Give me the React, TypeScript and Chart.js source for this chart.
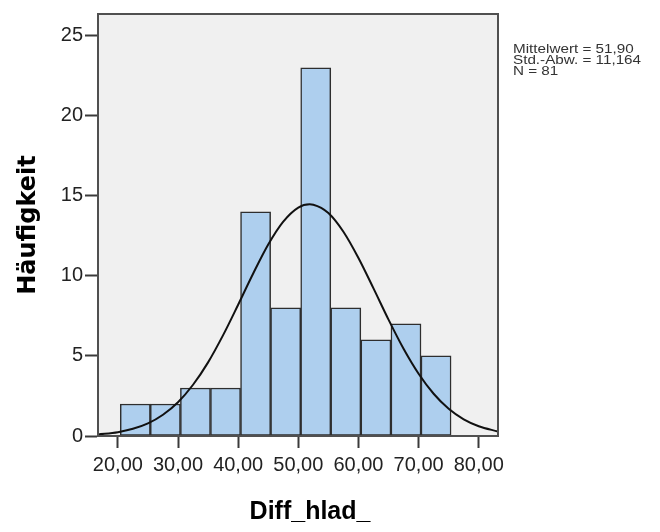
import React, { useEffect, useRef } from 'react';
import { Chart, registerables } from 'chart.js';

Chart.register(...registerables);

// ---- data ----
const binStart = 20.4;
const binWidth = 5;
const counts = [2, 2, 3, 3, 14, 8, 23, 8, 6, 7, 5];

const curveX = [16.7, 20, 22.5, 25, 27.5, 30, 32.5, 35, 37.5, 40, 42.5, 45, 47.5, 50, 51.9, 52.5, 55, 57.5, 60, 62.5, 65, 67.5, 70, 72.5, 75, 77.5, 80, 83.2];
const curveY = [0.10, 0.24, 0.45, 0.79, 1.33, 2.11, 3.20, 4.60, 6.30, 8.20, 10.15, 11.96, 13.39, 14.27, 14.47, 14.45, 13.93, 12.76, 11.12, 9.22, 7.27, 5.45, 3.89, 2.64, 1.70, 1.04, 0.61, 0.28];

const xTicks = [20, 30, 40, 50, 60, 70, 80];
const xTickLabels = ['20,00', '30,00', '40,00', '50,00', '60,00', '70,00', '80,00'];
const yTicks = [0, 5, 10, 15, 20, 25];
const yTickLabels = ['0', '5', '10', '15', '20', '25'];

const xTitle = 'Diff_hlad_';
const yTitle = 'Häufigkeit';
const statsLines = ['Mittelwert = 51,90', 'Std.-Abw. = 11,164', 'N = 81'];

const FONT = "'Liberation Sans', Arial, sans-serif";
const AXIS_COLOR = '#3a3a3a';

const frameAndStats = {
  id: 'frameAndStats',
  beforeDatasetsDraw(chart: any) {
    const { ctx, chartArea: a } = chart;
    ctx.save();
    ctx.fillStyle = '#f0f0f0';
    ctx.fillRect(a.left, a.top, a.right - a.left, a.bottom - a.top);
    ctx.restore();
  },
  afterDraw(chart: any) {
    const { ctx, chartArea: a } = chart;
    ctx.save();
    ctx.strokeStyle = '#505050';
    ctx.lineWidth = 2;
    ctx.strokeRect(a.left, a.top, a.right - a.left, a.bottom - a.top);

    // x-axis title (SPSS places it slightly right of centre)
    ctx.fillStyle = '#000';
    ctx.font = `bold 25px ${FONT}`;
    ctx.textAlign = 'center';
    ctx.textBaseline = 'middle';
    ctx.fillText(xTitle, (a.left + a.right) / 2 + 12, 512);

    // statistics box
    ctx.fillStyle = '#333';
    ctx.font = `12px ${FONT}`;
    ctx.textAlign = 'left';
    ctx.textBaseline = 'alphabetic';
    statsLines.forEach((t, i) => {
      ctx.save();
      ctx.translate(a.right + 15, 53 + i * 11);
      ctx.scale(1.27, 1);
      ctx.fillText(t, 0, 0);
      ctx.restore();
    });
    ctx.restore();
  },
};

export default function App() {
  const ref = useRef<HTMLCanvasElement | null>(null);

  useEffect(() => {
    if (!ref.current) return;
    const barData = counts.map((c, i) => ({ x: binStart + binWidth * (i + 0.5), y: c }));
    const lineData = curveX.map((x, i) => ({ x, y: curveY[i] }));

    const chart = new Chart(ref.current, {
      type: 'bar',
      data: {
        datasets: [
          {
            type: 'line',
            data: lineData,
            borderColor: '#111',
            borderWidth: 2,
            pointRadius: 0,
            cubicInterpolationMode: 'monotone',
            fill: false,
            order: 0,
          } as any,
          {
            type: 'bar',
            data: barData,
            backgroundColor: '#aecfee',
            borderColor: '#2e2e2e',
            borderWidth: 1.5,
            borderSkipped: false,
            barPercentage: 1,
            categoryPercentage: 1,
            order: 1,
          } as any,
        ],
      },
      options: {
        animation: false,
        responsive: false,
        maintainAspectRatio: false,
        layout: { padding: { left: 0, right: 162, top: 5, bottom: 0 } },
        plugins: { legend: { display: false }, tooltip: { enabled: false } },
        scales: {
          x: {
            type: 'linear',
            offset: false,
            min: 16.7,
            max: 83.2,
            afterBuildTicks: (s: any) => { s.ticks = xTicks.map((v) => ({ value: v })); },
            afterFit: (s: any) => { s.height = 96; },
            ticks: {
              callback: (v: any) => xTickLabels[xTicks.indexOf(Number(v))] ?? '',
              font: { family: FONT, size: 20 },
              color: '#222',
              padding: 5,
              maxRotation: 0,
              autoSkip: false,
            },
            grid: { display: true, offset: false, drawOnChartArea: false, drawTicks: true, tickLength: 12, tickWidth: 2, tickColor: AXIS_COLOR, color: AXIS_COLOR },
            border: { display: true, color: AXIS_COLOR, width: 2 },
            title: { display: false },
          },
          y: {
            type: 'linear',
            min: 0,
            max: 26.36,
            afterBuildTicks: (s: any) => { s.ticks = yTicks.map((v) => ({ value: v })); },
            afterFit: (s: any) => { s.width = 98; },
            ticks: {
              callback: (v: any) => yTickLabels[yTicks.indexOf(Number(v))] ?? '',
              font: { family: FONT, size: 20 },
              color: '#222',
              padding: 2,
              autoSkip: false,
            },
            grid: { display: true, drawOnChartArea: false, drawTicks: true, tickLength: 13, tickWidth: 2, tickColor: AXIS_COLOR, color: AXIS_COLOR },
            border: { display: true, color: AXIS_COLOR, width: 2 },
            title: { display: true, text: yTitle, font: { family: "'DejaVu Sans', sans-serif", size: 24, weight: 'bold' }, color: '#000', padding: { top: 14, bottom: 0 } },
          },
        },
      },
      plugins: [frameAndStats],
    });
    return () => chart.destroy();
  }, []);

  return (
    <div style={{ position: 'fixed', left: 0, top: 0, width: 660, height: 532, background: '#fff' }}>
      <canvas ref={ref} width={660} height={532} style={{ display: 'block' }} />
    </div>
  );
}
